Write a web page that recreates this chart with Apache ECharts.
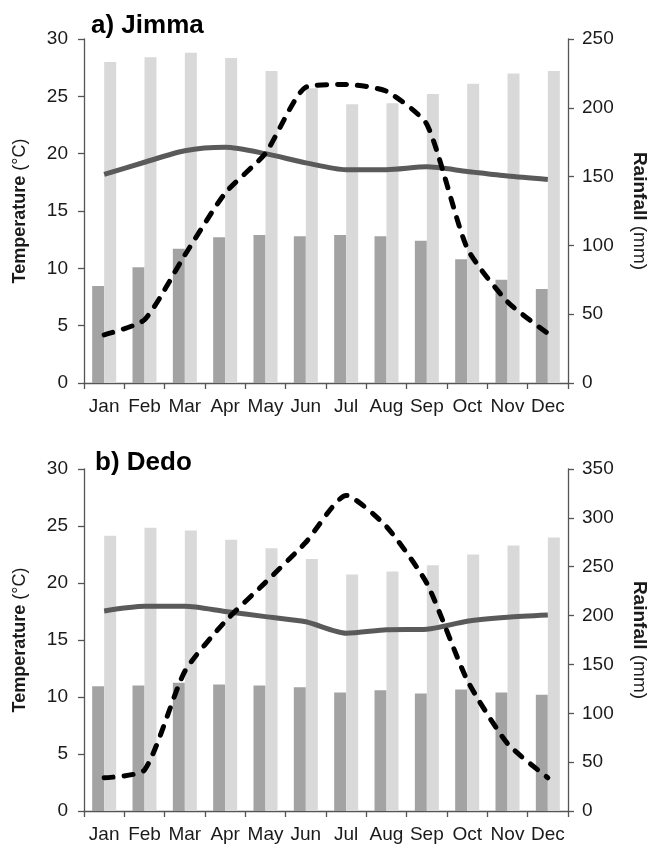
<!DOCTYPE html>
<html>
<head>
<meta charset="utf-8">
<script src="https://cdn.jsdelivr.net/npm/echarts@6/dist/echarts.min.js"></script>
<style>
html,body{margin:0;padding:0;background:#fff;}
#chart{width:651px;height:845px;}
</style>
</head>
<body>
<div id="chart"></div>
<script>
var months = ['Jan','Feb','Mar','Apr','May','Jun','Jul','Aug','Sep','Oct','Nov','Dec'];

var jimmaMin  = [8.45, 10.1, 11.7, 12.7, 12.9, 12.8, 12.9, 12.8, 12.4, 10.8, 9.0, 8.2];
var jimmaMax  = [28.0, 28.4, 28.8, 28.35, 27.2, 25.7, 24.3, 24.4, 25.2, 26.1, 27.0, 27.2];
var jimmaMean = [18.2, 19.25, 20.25, 20.55, 20.0, 19.2, 18.6, 18.6, 18.85, 18.45, 18.05, 17.75];
var jimmaRain = [35, 46, 93, 138, 167, 215, 217, 212, 188, 98, 59, 36];

var dedoMin  = [10.95, 11.0, 11.25, 11.1, 11.0, 10.85, 10.4, 10.6, 10.3, 10.65, 10.4, 10.2];
var dedoMax  = [24.15, 24.85, 24.6, 23.8, 23.05, 22.1, 20.75, 21.0, 21.55, 22.5, 23.3, 24.0];
var dedoMean = [17.55, 17.95, 17.95, 17.5, 17.05, 16.6, 15.6, 15.9, 15.95, 16.65, 17.0, 17.2];
var dedoRain = [34, 42, 143, 194, 234, 275, 323, 291, 233, 134, 69, 34];

var tempTicks = [0, 30, 5];
var jimmaRainTicks = [0, 250, 50];
var dedoRainTicks = [0, 350, 50];

var FONT = 'Liberation Sans, Arial, sans-serif';
var AX = '#555555';
var TXT = '#1a1a1a';

function xAxis(gi) {
  return {
    type: 'category', gridIndex: gi, data: months, boundaryGap: true,
    axisLine: {show: true, lineStyle: {color: AX, width: 1.3}},
    axisTick: {show: true, length: 6, lineStyle: {color: AX, width: 1.3}},
    axisLabel: {color: TXT, fontFamily: FONT, fontSize: 19, margin: 14, interval: 0},
    splitLine: {show: false}
  };
}
function leftAxis(gi, t) {
  return {
    type: 'value', gridIndex: gi, min: t[0], max: t[1], interval: t[2], position: 'left',
    name: '{b|Temperature} (°C)', nameLocation: 'middle', nameGap: 55, nameRotate: 90,
    nameTextStyle: {color: TXT, fontFamily: FONT, fontSize: 18,
      rich: {b: {fontFamily: FONT, fontSize: 18, fontWeight: 'bold', color: TXT}}},
    axisLine: {show: true, lineStyle: {color: AX, width: 1.3}},
    axisTick: {show: true, length: 6, lineStyle: {color: AX, width: 1.3}},
    axisLabel: {color: TXT, fontFamily: FONT, fontSize: 19, margin: 16},
    splitLine: {show: false}
  };
}
function rightAxis(gi, t) {
  return {
    type: 'value', gridIndex: gi, min: t[0], max: t[1], interval: t[2], position: 'right',
    name: '{b|Rainfall} (mm)', nameLocation: 'middle', nameGap: 62, nameRotate: -90,
    nameTextStyle: {color: TXT, fontFamily: FONT, fontSize: 19,
      rich: {b: {fontFamily: FONT, fontSize: 19, fontWeight: 'bold', color: TXT}}},
    axisLine: {show: true, lineStyle: {color: AX, width: 1.3}},
    axisTick: {show: true, length: 6, lineStyle: {color: AX, width: 1.3}},
    axisLabel: {color: TXT, fontFamily: FONT, fontSize: 19, margin: 14},
    splitLine: {show: false}
  };
}
function panelSeries(xi, yl, yr, mn, mx, mean, rain) {
  return [
    {type: 'bar', xAxisIndex: xi, yAxisIndex: yl, data: mn, barWidth: 12, barGap: '0%',
     itemStyle: {color: '#a3a3a3'}, z: 2, silent: true},
    {type: 'bar', xAxisIndex: xi, yAxisIndex: yl, data: mx, barWidth: 12, barGap: '0%',
     itemStyle: {color: '#d9d9d9'}, z: 2, silent: true},
    {type: 'line', xAxisIndex: xi, yAxisIndex: yl, data: mean, smooth: 0.25, showSymbol: false,
     symbol: 'none', lineStyle: {color: '#5a5a5a', width: 5}, z: 3, silent: true},
    {type: 'line', xAxisIndex: xi, yAxisIndex: yr, data: rain, smooth: 0.2, showSymbol: false,
     symbol: 'none', lineStyle: {color: '#000', width: 5, type: [9, 11], cap: 'round', join: 'round'},
     z: 4, silent: true}
  ];
}

var chart = echarts.init(document.getElementById('chart'), null, {renderer: 'canvas'});
chart.setOption({
  animation: false,
  backgroundColor: '#fff',
  title: [
    {text: 'a) Jimma', left: 86, top: 8, textStyle: {fontFamily: FONT, fontSize: 26, fontWeight: 'bold', color: '#000'}},
    {text: 'b) Dedo', left: 90, top: 445, textStyle: {fontFamily: FONT, fontSize: 26, fontWeight: 'bold', color: '#000'}}
  ],
  grid: [
    {left: 84, right: 83, top: 39, height: 344, containLabel: false, outerBoundsMode: 'none'},
    {left: 84, right: 83, top: 469, height: 342, containLabel: false, outerBoundsMode: 'none'}
  ],
  xAxis: [xAxis(0), xAxis(1)],
  yAxis: [leftAxis(0, tempTicks), rightAxis(0, jimmaRainTicks), leftAxis(1, tempTicks), rightAxis(1, dedoRainTicks)],
  series: [].concat(
    panelSeries(0, 0, 1, jimmaMin, jimmaMax, jimmaMean, jimmaRain),
    panelSeries(1, 2, 3, dedoMin, dedoMax, dedoMean, dedoRain)
  )
});
</script>
</body>
</html>
